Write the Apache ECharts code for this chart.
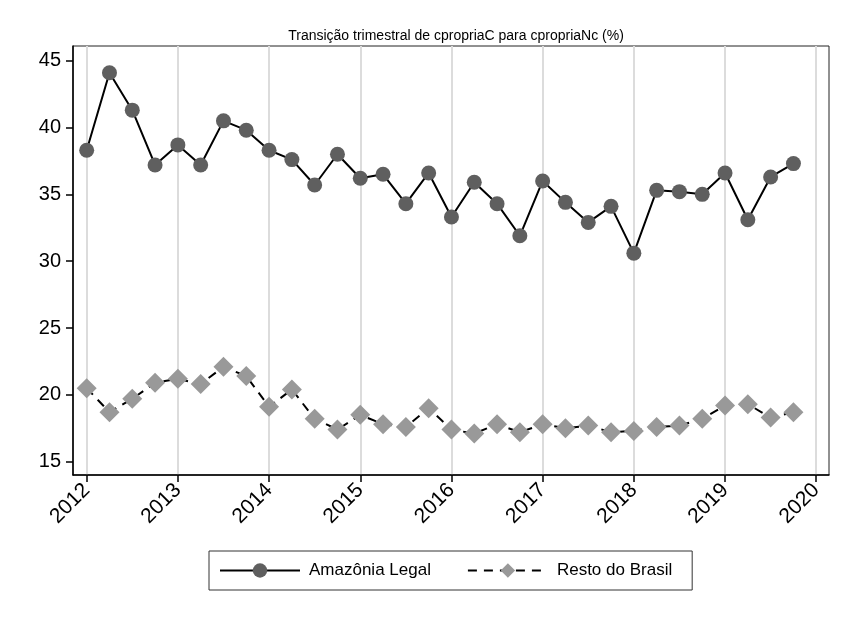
<!DOCTYPE html>
<html>
<head>
<meta charset="utf-8">
<script src="https://cdn.jsdelivr.net/npm/echarts@6/dist/echarts.min.js"></script>
<style>
  html, body { margin: 0; padding: 0; background: #fff; }
  #chart { width: 852px; height: 620px; }
</style>
</head>
<body>
<div id="chart"></div>
<script>
// trimestres 2012.0 ... 2019.75
var quarters = [
  2012.00, 2012.25, 2012.50, 2012.75, 2013.00, 2013.25, 2013.50, 2013.75,
  2014.00, 2014.25, 2014.50, 2014.75, 2015.00, 2015.25, 2015.50, 2015.75,
  2016.00, 2016.25, 2016.50, 2016.75, 2017.00, 2017.25, 2017.50, 2017.75,
  2018.00, 2018.25, 2018.50, 2018.75, 2019.00, 2019.25, 2019.50, 2019.75
];
var amazonia = [
  38.3, 44.1, 41.3, 37.2, 38.7, 37.2, 40.5, 39.8,
  38.3, 37.6, 35.7, 38.0, 36.2, 36.5, 34.3, 36.6,
  33.3, 35.9, 34.3, 31.9, 36.0, 34.4, 32.9, 34.1,
  30.6, 35.3, 35.2, 35.0, 36.6, 33.1, 36.3, 37.3
];
var resto = [
  20.5, 18.7, 19.7, 20.9, 21.2, 20.8, 22.1, 21.4,
  19.1, 20.4, 18.2, 17.4, 18.5, 17.8, 17.6, 19.0,
  17.4, 17.1, 17.8, 17.2, 17.8, 17.5, 17.7, 17.2,
  17.3, 17.6, 17.7, 18.2, 19.2, 19.3, 18.3, 18.7
];
var yearTicks = [2012, 2013, 2014, 2015, 2016, 2017, 2018, 2019, 2020];
var yTicks = [15, 20, 25, 30, 35, 40, 45];

function pairs(xs, ys) {
  var out = [];
  for (var i = 0; i < xs.length; i++) {
    out.push([xs[i], ys[i]]);
  }
  return out;
}

var font = 'Arial, "Liberation Sans", sans-serif';
var chart = echarts.init(document.getElementById('chart'), null, { renderer: 'canvas' });

var option = {
  animation: false,
  backgroundColor: '#fff',
  title: {
    text: 'Transição trimestral de cpropriaC para cpropriaNc (%)',
    left: 451,
    textAlign: 'center',
    top: 24,
    textStyle: { fontFamily: font, fontSize: 14, fontWeight: 'normal', color: '#000' }
  },
  grid: {
    left: 73,
    right: 23,
    top: 46,
    bottom: 145,
    show: true,
    borderColor: '#222',
    borderWidth: 1
  },
  legend: {
    left: 209,
    top: 551,
    padding: [11, 20, 11, 10],
    itemGap: 36,
    itemWidth: 80,
    itemHeight: 18,
    borderColor: '#333',
    borderWidth: 1,
    textStyle: { fontFamily: font, fontSize: 17, color: '#000', padding: [0, 0, 0, 4] },
    data: ['Amazônia Legal', 'Resto do Brasil']
  },
  xAxis: {
    type: 'value',
    min: 2011.85,
    max: 2020.14,
    axisLine: { onZero: false, lineStyle: { color: '#000', width: 1.5 } },
    axisTick: { customValues: yearTicks, length: 7, lineStyle: { color: '#000', width: 1.5 } },
    axisLabel: {
      customValues: yearTicks,
      formatter: function (v) { return String(v); },
      rotate: 45,
      margin: 12,
      fontFamily: font,
      fontSize: 21,
      color: '#000'
    },
    splitLine: { show: true, lineStyle: { color: '#dcdcdc', width: 2 } }
  },
  yAxis: {
    type: 'value',
    min: 14,
    max: 46.1,
    axisLine: { show: true, onZero: false, lineStyle: { color: '#000', width: 1.5 } },
    axisTick: { show: true, customValues: yTicks, length: 7, lineStyle: { color: '#000', width: 1.5 } },
    axisLabel: {
      customValues: yTicks,
      margin: 12,
      fontFamily: font,
      fontSize: 20,
      color: '#000'
    },
    splitLine: { show: false }
  },
  series: [
    {
      name: 'Amazônia Legal',
      type: 'line',
      data: pairs(quarters, amazonia),
      symbol: 'circle',
      symbolSize: 15,
      itemStyle: { color: '#5f5f5f' },
      lineStyle: { color: '#000', width: 2 },
      z: 3
    },
    {
      name: 'Resto do Brasil',
      type: 'line',
      data: pairs(quarters, resto),
      symbol: 'diamond',
      symbolSize: 20,
      itemStyle: { color: '#999999' },
      lineStyle: { color: '#000', width: 2, type: [9, 7] },
      z: 2
    }
  ]
};

chart.setOption(option);
</script>
</body>
</html>
